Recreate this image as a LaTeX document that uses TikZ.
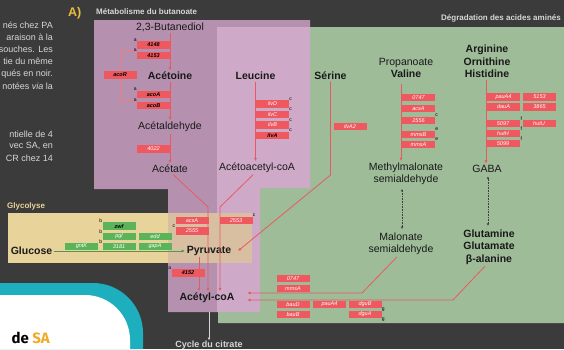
\documentclass[tikz,border=0pt]{standalone}
\usepackage{fontspec}
\setmainfont{Liberation Sans}
\newfontfamily\firafont{Fira Sans}
\usetikzlibrary{arrows.meta, positioning, calc}
\usepackage{xcolor}
\definecolor{posterbg}{RGB}{60,59,59}
\definecolor{butmauve}{RGB}{181,145,175}
\definecolor{leupink}{RGB}{206,170,200}
\definecolor{aagreen}{RGB}{158,188,152}
\definecolor{glyyellow}{RGB}{232,212,155}
\definecolor{genered}{RGB}{238,88,94}
\definecolor{genegreen}{RGB}{92,180,90}
\definecolor{flowred}{RGB}{232,90,96}
\definecolor{headgrey}{RGB}{215,215,215}
\definecolor{titleyellow}{RGB}{233,190,60}
\definecolor{saorange}{RGB}{240,170,40}
\definecolor{ringteal}{RGB}{30,175,190}

\begin{document}
\begin{tikzpicture}[x=1pt, y=-1pt,
  met/.style={font=\fontsize{10.5}{12.5}\selectfont, text=black!90, align=center, inner sep=1.5pt},
  metb/.style={met, font=\fontsize{10.5}{12.5}\selectfont\bfseries},
  gene/.style={fill=genered, text=white, minimum width=33pt, minimum height=7.5pt,
               inner sep=0pt, font=\fontsize{5.5}{6}\selectfont\itshape},
  geneblk/.style={gene, text=black, font=\fontsize{5.5}{6}\selectfont\bfseries\itshape},
  glygene/.style={gene, fill=genegreen},
  glyblk/.style={geneblk, fill=genegreen},
  sitetag/.style={font=\fontsize{5}{5}\selectfont, text=black, inner sep=0pt},
  flow/.style={draw=flowred, line width=0.8pt, -{Latex[length=3.5pt, width=3pt]}},
  glyflow/.style={flow, draw=genegreen!85!black},
  regline/.style={draw=flowred!80, line width=0.5pt},
  dotflow/.style={draw=black!75, densely dotted, line width=0.6pt, shorten <=2pt, shorten >=2pt,
                  {Latex[length=2.5pt,width=2.5pt]}-{Latex[length=2.5pt,width=2.5pt]}},
  sidetext/.style={font=\fontsize{9}{10}\selectfont, text=headgrey, anchor=east, inner sep=0pt},
  header/.style={font=\fontsize{8}{9}\selectfont\bfseries, text=headgrey, inner sep=0pt},
]
\fill[posterbg] (0,0) rectangle (564,349);
\useasboundingbox (0,0) rectangle (564,349);

% zones
\fill[aagreen] (310,27) -- (564,27) -- (564,323) -- (218,323) -- (218,188) -- (310,188) -- cycle;
\fill[butmauve] (94,20) -- (310,20) -- (310,27) -- (217,27) -- (217,312) -- (168,312) -- (168,189) -- (94,189) -- cycle;
\fill[leupink] (217,27) -- (310,27) -- (310,188) -- (260,188) -- (260,312) -- (217,312) -- cycle;
\fill[glyyellow] (8,213) rectangle (252,263);
\fill[butmauve, opacity=0.3] (168,213) rectangle (252,263);

% bottom left panel
\fill[ringteal] (0,283) -- (93,283) arc[start angle=-90, end angle=0, radius=50] -- (143,349) -- (0,349) -- cycle;
\fill[white] (0,295) -- (85,295) arc[start angle=-90, end angle=0, radius=45] -- (130,349) -- (0,349) -- cycle;
\node[anchor=base east, inner sep=0pt] (desa) at (50,343) {\firafont\bfseries\fontsize{15}{15}\selectfont de \textcolor{saorange}{SA}};

% left text
\node[sidetext] (intro1) at (53,25) {nés chez PA};
\node[sidetext] (intro2) at (53,37) {araison à la};
\node[sidetext] (intro3) at (53,49.5) {souches. Les};
\node[sidetext] (intro4) at (53,61.5) {tie du même};
\node[sidetext] (intro5) at (53,74) {qués en noir.};
\node[sidetext] (intro6) at (53,86) {notées \textit{via} la};
\node[sidetext] (intro7) at (53,134) {ntielle de 4};
\node[sidetext] (intro8) at (53,146) {vec SA, en};
\node[sidetext] (intro9) at (53,158) {CR chez 14};

% headers
\node[anchor=west, text=titleyellow, font=\fontsize{12.5}{13}\selectfont\bfseries, inner sep=0pt] (panelA) at (68,13) {A)};
\node[header, anchor=west] (buthead) at (96,12) {Métabolisme du butanoate};
\node[header, anchor=east] (aahead) at (561,18) {Dégradation des acides aminés};
\node[header, anchor=west, text=glyyellow] (glyhead) at (7,206) {Glycolyse};

% metabolites
\node[met] (butanediol) at (170,27) {2,3-Butanediol};
\node[metb] (acetoine) at (170,76) {Acétoine};
\node[met] (acetaldehyde) at (170,127) {Acétaldehyde};
\node[met] (acetate) at (170,169) {Acétate};
\node[metb] (leucine) at (255.5,76) {Leucine};
\node[met] (acetoacetyl) at (257,168) {Acétoacetyl-coA};
\node[metb] (serine) at (330.5,76) {Sérine};
\node[met] (valine) at (406,68) {Propanoate\\\textbf{Valine}};
\node[met] (methylmal) at (406,174) {Methylmalonate\\semialdehyde};
\node[met] (malonate) at (401,244) {Malonate\\semialdehyde};
\node[metb] (arginine) at (487,61.5) {Arginine\\Ornithine\\Histidine};
\node[met] (gaba) at (487,169) {GABA};
\node[metb] (glutamine) at (489,247) {Glutamine\\Glutamate\\β-alanine};
\node[metb] (glucose) at (31.5,251) {Glucose};
\node[metb] (pyruvate) at (209,251) {Pyruvate};
\node[metb] (acetylcoa) at (207,298) {Acétyl-coA};
\node[header, font=\fontsize{9}{10}\selectfont\bfseries] (citrate) at (209,345) {Cycle du citrate};

% pathways
\coordinate (acsbend) at (208,207);
\coordinate (aacbend) at (220,207);
\coordinate (serbend) at (330.5,175);
\coordinate (valtop) at (401,84);
\coordinate (malbend) at (362,293);
\coordinate (glubend) at (453,300);
\coordinate (acoaright) at (247,296);
\draw[flow] (butanediol) -- (acetoine);
\draw[flow] (acetoine) -- (acetaldehyde);
\draw[flow] (acetaldehyde) -- (acetate);
\draw[flow] (acetate.-60) -- (acsbend) -- (acsbend |- acetylcoa.north);
\draw[flow] (acetoacetyl.-120) -- (aacbend) -- (aacbend |- acetylcoa.north);
\draw[flow] (leucine) -- (leucine |- acetoacetyl.north);
\draw[flow] (serine) -- (serbend) -- ([xshift=5pt]pyruvate.east);
\draw[flow] ([xshift=-10pt]pyruvate.south) -- ([xshift=-8pt]acetylcoa.north);
\draw[flow] (valtop) -- (valtop |- methylmal.north);
\draw[flow] ([xshift=-1pt]arginine.south) -- ([xshift=-1pt]gaba.north);
\draw[dotflow] ([xshift=-4pt]methylmal.south) -- ([xshift=1pt]malonate.north);
\draw[dotflow] ([xshift=1pt]gaba.south) -- ([xshift=-1pt]glutamine.north);
\draw[flow] ([xshift=-4pt]malonate.south) -- (malbend) -- (malbend -| acoaright);
\draw[flow] ([xshift=-4pt]glutamine.south) -- (glubend) -- (glubend -| acoaright);
\draw[glyflow] (glucose) -- (pyruvate);
\draw[draw=headgrey, line width=0.6pt, shorten <=7pt, -{Latex[length=3pt, width=2.5pt]}] ([xshift=2pt]acetylcoa.south) -- (citrate.north);

% genes: butanoate
\node[geneblk] (g4148) at (153.5,45) {4148};
\node[geneblk] (g4153) at (153.5,55.5) {4153};
\node[geneblk] (acoR) at (120,75) {acoR};
\node[geneblk] (acoA) at (153.5,94.5) {acoA};
\node[geneblk] (acoB) at (153.5,105.5) {acoB};
\node[gene] (g4022) at (153.5,149) {4022};
\draw[regline] (acoR.north) |- (g4153.north west);
\draw[regline] (acoR.south) |- (acoB.north west);
% genes: leucine, serine
\node[gene] (ilvD) at (272.5,104) {ilvD};
\node[gene] (ilvC) at (272.5,114.5) {ilvC};
\node[gene] (ilvB) at (272.5,125) {ilvB};
\node[geneblk] (ilvA) at (272.5,135.5) {ilvA};
\node[gene] (ilvA2) at (350,126.5) {ilvA2};
% genes: valine
\node[gene] (v0747) at (418.5,97.5) {0747};
\node[gene] (vacsA) at (418.5,108.5) {acsA};
\node[gene] (v2556) at (418.5,120.5) {2556};
\node[gene] (vmmsB) at (418.5,134.5) {mmsB};
\node[gene] (vmmsA) at (418.5,144.5) {mmsA};
% genes: arginine
\node[gene] (apauA4) at (503.5,97) {pauA4};
\node[gene] (a5153) at (539.5,97) {5153};
\node[gene] (adauA) at (503.5,107) {dauA};
\node[gene] (a3865) at (539.5,107) {3865};
\node[gene] (a5097) at (503,123.5) {5097};
\node[gene] (ahutU) at (539,123.5) {hutU};
\node[gene] (ahutH) at (503,133.5) {hutH};
\node[gene] (a5099) at (503,143.5) {5099};
% genes: pyruvate
\node[gene] (pacsA) at (192,220.5) {acsA};
\node[gene] (p2555) at (192,231) {2555};
\node[gene] (p2553) at (236,220.5) {2553};
\node[geneblk] (p4152) at (188,273) {4152};
% genes: glycolyse
\node[glyblk] (zwf) at (119,226) {zwf};
\node[glygene] (pgl) at (119,236.5) {pgl};
\node[glygene] (edd) at (155,236.5) {edd};
\node[glygene] (g3181) at (119,246.5) {3181};
\node[glygene] (gapA) at (155,246.5) {gapA};
\node[glygene] (gntK) at (81.5,246.5) {gntK};
% genes: towards acetyl-coA
\node[gene] (b0747) at (293,278.5) {0747};
\node[gene] (bmmsA) at (293,288.5) {mmsA};
\node[gene] (bbauD) at (293,304.5) {bauD};
\node[gene] (bbauB) at (293,314.5) {bauB};
\node[gene] (bpauA4) at (329.5,304.5) {pauA4};
\node[gene] (bdguB) at (365,304.5) {dguB};
\node[gene] (bdguA) at (365,314.5) {dguA};

% site tags
\foreach \g/\t in {g4148/a, g4153/a, acoA/a, acoB/a, p2555/c, p4152/a, zwf/b, pgl/b, g3181/b}
  \node[sitetag, xshift=-1.5pt, yshift=1pt] (tag-\g) at (\g.north west) {\t};
\foreach \g/\t in {ilvD/c, ilvC/c, ilvB/c, ilvA/c, v2556/c, vmmsB/e, vmmsA/e, a5097/f, ahutH/f, a5099/f, p2553/c}
  \node[sitetag, xshift=1.5pt, yshift=1pt] (tag-\g) at (\g.north east) {\t};
\foreach \g/\t in {bdguB/g, bdguA/g}
  \node[sitetag, xshift=1.5pt, yshift=-1pt] (tag-\g) at (\g.south east) {\t};
\end{tikzpicture}
\end{document}
